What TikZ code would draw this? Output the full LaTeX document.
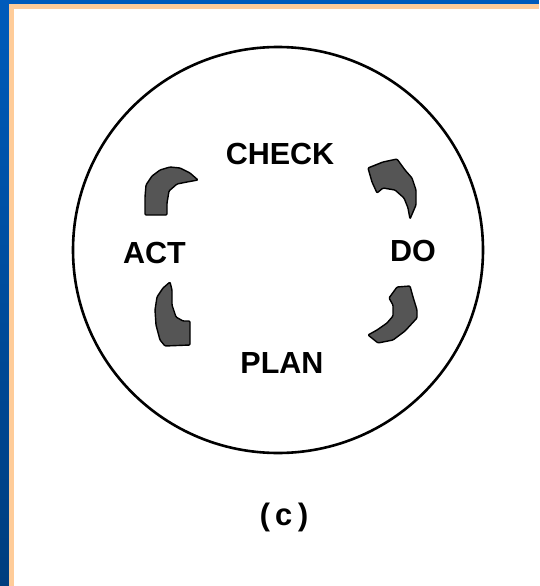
\documentclass[tikz,border=0pt]{standalone}
\usepackage{fontspec}
\setmainfont{Liberation Sans}
\newfontfamily\monofnt{Liberation Mono}
\definecolor{frameblueA}{HTML}{005BBB}
\definecolor{frameblueB}{HTML}{003D7E}
\definecolor{peach}{HTML}{FFCC99}
\definecolor{arrgray}{HTML}{555555}
\tikzset{
  lbl/.style={font=\bfseries\fontsize{30.5}{30.5}\selectfont, inner sep=0pt},
  caplbl/.style={font=\monofnt\bfseries\fontsize{31}{31}\selectfont, inner sep=0pt},
  arrowshape/.style={fill=arrgray, draw=black, line width=1.4pt, line join=round, rounded corners=1pt},
  ring/.style={draw=black, line width=2.6pt}
}
\begin{document}
\begin{tikzpicture}[x=1pt,y=-1pt]
  % background and frame
  \fill[white] (0,0) rectangle (539,586);
  \useasboundingbox (0,0) rectangle (539,586);
  \shade[top color=frameblueA, bottom color=frameblueB] (0,0) rectangle (9,586);
  \fill[frameblueA] (0,0) rectangle (539,4);
  \fill[peach] (9,4) rectangle (14.3,586);
  \fill[peach] (9,4) rectangle (539,9.5);

  % ring
  \coordinate (ctr) at (278,250);
  \draw[ring] (ctr) ellipse [x radius=205pt, y radius=203pt];

  % labels
  \node[lbl] (check) at (280,154) {CHECK};
  \node[lbl] (act) at (154.5,253) {ACT};
  \node[lbl] (do) at (413,251) {DO};
  \node[lbl] (plan) at (282,363) {PLAN};
  \node[caplbl] (cap) at (284,517) {(c)};

  % upper-left arrow: CHECK -> ACT
  \filldraw[arrowshape] (198,180) -- (190,173) -- (180,168) -- (170,167) -- (160,170)
    -- (152,176) -- (146,185) -- (145,197) -- (145,215) -- (167,215) -- (167,203)
    -- (169,191) -- (177,184) -- (187,182) -- cycle;

  % upper-right arrow: DO -> CHECK (head points left)
  \filldraw[arrowshape] (410,219) -- (416,205) -- (416,190) -- (412,178) -- (405,170)
    -- (397,159) -- (383,162) -- (368,168) -- (372,182) -- (377,193) -- (383,188)
    -- (395,190) -- (404,198) -- (408,208) -- cycle;

  % lower-right arrow: PLAN -> DO (head points up)
  \filldraw[arrowshape] (368,335) -- (377,330) -- (387,323) -- (393,316) -- (393,305)
    -- (389,298) -- (397,287) -- (410,286) -- (413,297) -- (417,310) -- (417,318)
    -- (405,331) -- (393,340) -- (378,343) -- cycle;

  % lower-left arrow: ACT -> PLAN (head points right)
  \filldraw[arrowshape] (170,282) -- (172,290) -- (172,305) -- (176,317) -- (183,321)
    -- (190,321) -- (190,345) -- (165,346) -- (160,340) -- (156,325) -- (155,310)
    -- (157,297) -- (163,288) -- cycle;
\end{tikzpicture}
\end{document}
